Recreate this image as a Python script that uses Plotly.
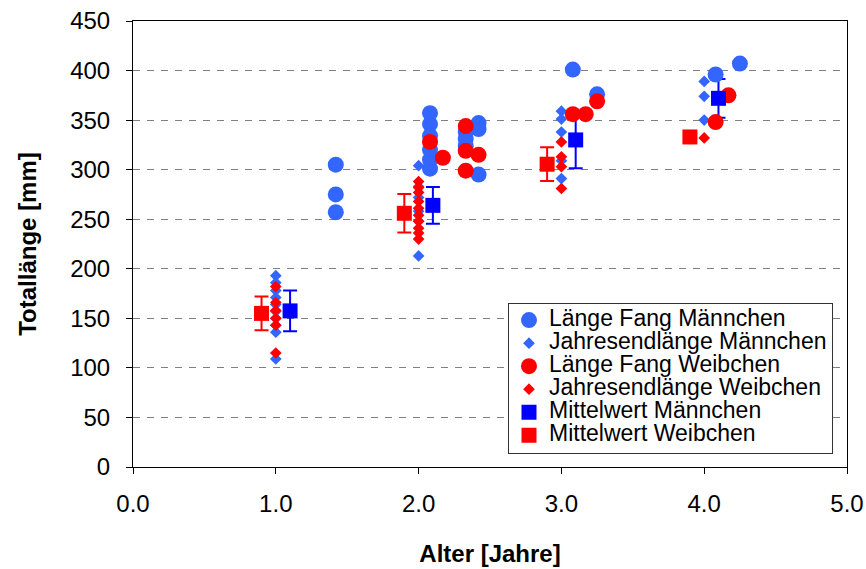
import plotly.graph_objects as go

# ---- data ----
fang_m_x = [1.42, 1.42, 1.42,
            2.08, 2.08, 2.08, 2.08, 2.08, 2.08,
            2.33, 2.33, 2.33,
            2.42, 2.42, 2.42,
            3.08, 3.25, 4.08, 4.25]
fang_m_y = [305, 275, 257,
            357, 346, 334, 320, 310, 301,
            338, 331, 324,
            347, 341, 295,
            401, 376, 396, 407]

jahr_m_x = [1.0] * 10 + [2.0] * 6 + [3.0] * 5 + [4.0] * 3
jahr_m_y = [193, 186, 178, 171, 164, 157, 150, 143, 136, 109,
            304, 283, 272, 258, 248, 213,
            359, 351, 338, 309, 291,
            389, 374, 350]

fang_w_x = [2.08, 2.17, 2.33, 2.33, 2.33, 2.42, 3.08, 3.17, 3.25, 4.08, 4.17]
fang_w_y = [328, 312, 344, 319, 299, 315, 356, 356, 369, 348, 375]

jahr_w_x = [1.0] * 6 + [2.0] * 10 + [3.0] * 4 + [4.0]
jahr_w_y = [182, 166, 158, 150, 143, 115,
            288, 282, 277, 268, 261, 254, 248, 241, 236, 230,
            328, 313, 303, 281,
            332]

mean_m_x = [1.1, 2.1, 3.1, 4.1]
mean_m_y = [157.5, 264, 330, 372]
mean_m_err = [20.5, 18.5, 28.5, 19.5]

mean_w_x = [0.9, 1.9, 2.9, 3.9]
mean_w_y = [155, 256, 305.5, 333]
mean_w_err = [17, 19.5, 17, None]

x_ticks = [0, 1, 2, 3, 4, 5]
y_ticks = [0, 50, 100, 150, 200, 250, 300, 350, 400, 450]

# ---- style ----
FONT = "Liberation Sans, Arial, sans-serif"
LBLUE = "#3366FF"
BLUE = "#0000FF"
RED = "#FF0000"


def lg(name):
    return '<span style="font-size:23px">' + name + '</span>'


fig = go.Figure()

# error bars drawn first (beneath all markers)
fig.add_trace(go.Scatter(
    x=mean_m_x, y=mean_m_y, mode="markers", showlegend=False, hoverinfo="skip",
    marker=dict(size=1, color="rgba(0,0,0,0)"),
    error_y=dict(type="data", array=mean_m_err, visible=True, color=BLUE,
                 thickness=2, width=7)))
fig.add_trace(go.Scatter(
    x=mean_w_x, y=mean_w_y, mode="markers", showlegend=False, hoverinfo="skip",
    marker=dict(size=1, color="rgba(0,0,0,0)"),
    error_y=dict(type="data", array=mean_w_err, visible=True, color=RED,
                 thickness=2, width=7)))

fig.add_trace(go.Scatter(
    x=fang_m_x, y=fang_m_y, mode="markers", name=lg("Länge Fang Männchen"),
    marker=dict(symbol="circle", size=16, color=LBLUE)))
fig.add_trace(go.Scatter(
    x=jahr_m_x, y=jahr_m_y, mode="markers", name=lg("Jahresendlänge Männchen"),
    marker=dict(symbol="diamond", size=9, color=LBLUE)))
fig.add_trace(go.Scatter(
    x=fang_w_x, y=fang_w_y, mode="markers", name=lg("Länge Fang Weibchen"),
    marker=dict(symbol="circle", size=16, color=RED)))
fig.add_trace(go.Scatter(
    x=jahr_w_x, y=jahr_w_y, mode="markers", name=lg("Jahresendlänge Weibchen"),
    marker=dict(symbol="diamond", size=9, color=RED)))
fig.add_trace(go.Scatter(
    x=mean_m_x, y=mean_m_y, mode="markers", name=lg("Mittelwert Männchen"),
    marker=dict(symbol="square", size=15, color=BLUE)))
fig.add_trace(go.Scatter(
    x=mean_w_x, y=mean_w_y, mode="markers", name=lg("Mittelwert Weibchen"),
    marker=dict(symbol="square", size=15, color=RED)))

fig.update_layout(
    width=866, height=569,
    margin=dict(l=133, r=19, t=21, b=102, autoexpand=False),
    paper_bgcolor="white", plot_bgcolor="white",
    font=dict(family=FONT, color="black", size=24),
    legend=dict(
        x=0.5252, y=0.3686, xanchor="left", yanchor="top",
        bgcolor="white", bordercolor="#333333", borderwidth=1,
        font=dict(family=FONT, size=15.4, color="black"),
        itemwidth=30, traceorder="normal"),
)

fig.update_xaxes(
    range=[0, 5], tickvals=x_ticks, ticktext=[f"{v:.1f}" for v in x_ticks],
    showgrid=False, zeroline=False, automargin=False,
    showline=True, linecolor="black", linewidth=1, mirror=True,
    ticks="outside", ticklen=6, tickcolor="black", tickwidth=1,
    tickfont=dict(family=FONT, size=24), ticklabelstandoff=9,
    title=dict(text="<b>Alter [Jahre]</b>", font=dict(family=FONT, size=24), standoff=29),
)
fig.update_yaxes(
    range=[0, 450], tickvals=y_ticks,
    showgrid=True, gridcolor="#808080", gridwidth=1, griddash="7px,7px",
    zeroline=False, automargin=False,
    showline=True, linecolor="black", linewidth=1, mirror=True,
    ticks="outside", ticklen=6, tickcolor="black", tickwidth=1,
    tickfont=dict(family=FONT, size=24), ticklabelstandoff=11,
    title=dict(text="<b>Totallänge [mm]</b>", font=dict(family=FONT, size=24), standoff=26),
)

fig.write_html("out.html")
